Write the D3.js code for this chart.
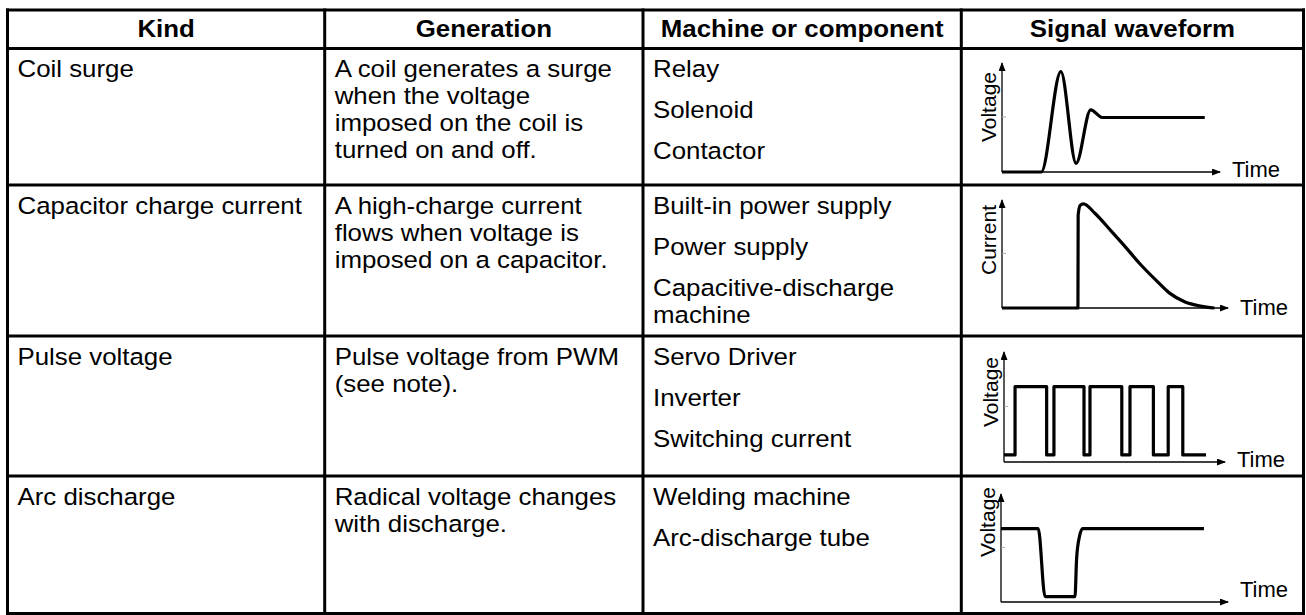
<!DOCTYPE html>
<html>
<head>
<meta charset="utf-8">
<script src="https://cdn.jsdelivr.net/npm/d3@7"></script>
<style>
  body { margin: 0; background: #fff; }
  text { font-family: "Liberation Sans", Arial, Helvetica, sans-serif; fill: #000; }
</style>
</head>
<body>
<div id="chart"></div>
<script>
//***************** data *******************/
var headers = ["Kind", "Generation", "Machine or component", "Signal waveform"];
var kinds = ["Coil surge", "Capacitor charge current", "Pulse voltage", "Arc discharge"];
var generation = [
  ["A coil generates a surge", "when the voltage", "imposed on the coil is", "turned on and off."],
  ["A high-charge current", "flows when voltage is", "imposed on a capacitor."],
  ["Pulse voltage from PWM", "(see note)."],
  ["Radical voltage changes", "with discharge."]
];
var machines = [
  [["Relay"], ["Solenoid"], ["Contactor"]],
  [["Built-in power supply"], ["Power supply"], ["Capacitive-discharge", "machine"]],
  [["Servo Driver"], ["Inverter"], ["Switching current"]],
  [["Welding machine"], ["Arc-discharge tube"]]
];
var yLabels = ["Voltage", "Current", "Voltage", "Voltage"];
var xLabel = "Time";

// waveforms: [time, level], both in % of the axis length
var coilSurge = [[0, 0], [18, 0], [27, 92], [34, 8], [40.7, 57], [46, 50], [93, 50]];
var chargeCurrent = [[0, 0], [33.6, 0], [33.7, 86], [34.6, 95], [36, 96.5], [41, 88], [48, 72], [54, 58],
  [61, 41], [68, 26], [74, 14], [81, 5.6], [88, 1.8], [94, 0]];
var pulseVoltage = [[0, 6.4], [5, 68.5], [19.3, 6.4], [22.6, 68.5], [36.2, 6.4], [38.9, 68.5], [53.3, 6.4],
  [57, 68.5], [67.6, 6.4], [74.3, 68.5], [80.9, 6.4], [91.4, 6.4]];
var arcDischarge = [[0, 68], [16.4, 68], [19.4, 5], [32.6, 5], [33.3, 40], [34.5, 60], [36, 68], [89.4, 68]];
var midTick = [51];

var waveforms = [coilSurge, chargeCurrent, pulseVoltage, arcDischarge];
var curves = [d3.curveMonotoneX, d3.curveMonotoneX, d3.curveStepAfter, d3.curveMonotoneX];

//************* layout ***************/
var W = 1306, H = 615;
var colX = [7.5, 324.7, 643, 961.3, 1303.5];
var rowY = [10, 48.5, 185, 336, 476, 613.5];
// the scan is a little wider than tall, so text is stretched sideways
var fontSize = 23.5, stretch = 1.1;
var lineH = 27, itemH = 41, pad = 10, firstBase = 28.5;

// plot boxes inside the waveform cells
var plots = [
  {x0: 1002, x1: 1220, y0: 172, y1: 63, labelTop: 72, timeDy: 5},
  {x0: 1002, x1: 1228, y0: 308, y1: 200, labelTop: 205, timeDy: 7},
  {x0: 1004, x1: 1225, y0: 462, y1: 352, labelTop: 357, timeDy: 5},
  {x0: 1001, x1: 1228, y0: 602, y1: 494, labelTop: 487, timeDy: -5}
];

function place(x, y) {
  return "translate(" + x + "," + y + ") scale(" + stretch + ",1)";
}

var svg = d3.select("#chart")
  .append("svg")
    .attr("width", W)
    .attr("height", H);

// arrow head
svg.append("defs").append("marker")
    .attr("id", "arrow")
    .attr("markerUnits", "userSpaceOnUse")
    .attr("markerWidth", 9)
    .attr("markerHeight", 7)
    .attr("refX", 8)
    .attr("refY", 3.5)
    .attr("orient", "auto")
  .append("path")
    .attr("d", "M0,0L9,3.5L0,7Z")
    .attr("fill", "#000");

//***************** table text *******************/
svg.selectAll(".head")
  .data(headers)
  .enter().append("text")
    .attr("class", "head")
    .attr("transform", function(d, i) { return place((colX[i] + colX[i + 1]) / 2, 36.5); })
    .attr("text-anchor", "middle")
    .attr("font-weight", "bold")
    .attr("font-size", fontSize)
    .text(function(d) { return d; });

kinds.forEach(function(k, r) {
  var top = rowY[r + 1];

  svg.append("text")
    .attr("transform", place(colX[0] + pad, top + firstBase))
    .attr("font-size", fontSize)
    .text(k);

  svg.selectAll(".gen" + r)
    .data(generation[r])
    .enter().append("text")
      .attr("transform", function(d, i) { return place(colX[1] + pad, top + firstBase + i * lineH); })
      .attr("font-size", fontSize)
      .text(function(d) { return d; });

  var y = top + firstBase;
  machines[r].forEach(function(item) {
    item.forEach(function(line, j) {
      svg.append("text")
        .attr("transform", place(colX[2] + pad, y + j * lineH))
        .attr("font-size", fontSize)
        .text(line);
    });
    y += itemH + (item.length - 1) * lineH;
  });
});

//***************** waveforms *******************/
waveforms.forEach(function(wave, i) {
  var p = plots[i];
  var x = d3.scaleLinear().domain([0, 100]).range([p.x0, p.x1]);
  var y = d3.scaleLinear().domain([0, 100]).range([p.y0, p.y1]);
  var g = svg.append("g");

  // axes with arrows
  g.append("line")
    .attr("x1", x(0)).attr("y1", y(0))
    .attr("x2", x(0)).attr("y2", y(100))
    .attr("stroke", "#000").attr("stroke-width", 1.3)
    .attr("marker-end", "url(#arrow)");
  g.append("line")
    .attr("x1", x(0)).attr("y1", y(0))
    .attr("x2", x(100)).attr("y2", y(0))
    .attr("stroke", "#000").attr("stroke-width", 1.6)
    .attr("marker-end", "url(#arrow)");

  // faint mid tick on the level axis
  g.append("g")
    .attr("transform", "translate(" + x(0) + ",0)")
    .call(d3.axisRight(y).tickValues(midTick).tickSize(4).tickFormat(""))
    .call(function(a) { a.select(".domain").remove(); })
    .selectAll("line").attr("stroke", "#aaa");

  g.append("path")
    .datum(wave)
    .attr("fill", "none")
    .attr("stroke", "#000")
    .attr("stroke-width", 3.2)
    .attr("stroke-linejoin", "round")
    .attr("d", d3.line()
      .x(function(d) { return x(d[0]); })
      .y(function(d) { return y(d[1]); })
      .curve(curves[i]));

  g.append("text")
    .attr("transform", "translate(" + (x(0) - 6) + "," + p.labelTop + ") rotate(-90)")
    .attr("text-anchor", "end")
    .attr("font-size", 21)
    .text(yLabels[i]);

  g.append("text")
    .attr("x", x(100) + 12)
    .attr("y", y(0) + p.timeDy)
    .attr("font-size", 22)
    .text(xLabel);
});

//***************** grid lines *******************/
svg.selectAll(".vline")
  .data(colX)
  .enter().append("line")
    .attr("x1", function(d) { return d; })
    .attr("x2", function(d) { return d; })
    .attr("y1", rowY[0])
    .attr("y2", rowY[rowY.length - 1])
    .attr("stroke", "#000")
    .attr("stroke-width", 3)
    .attr("stroke-linecap", "square");

svg.selectAll(".hline")
  .data(rowY)
  .enter().append("line")
    .attr("x1", colX[0])
    .attr("x2", colX[colX.length - 1])
    .attr("y1", function(d) { return d; })
    .attr("y2", function(d) { return d; })
    .attr("stroke", "#000")
    .attr("stroke-width", 3)
    .attr("stroke-linecap", "square");
</script>
</body>
</html>
